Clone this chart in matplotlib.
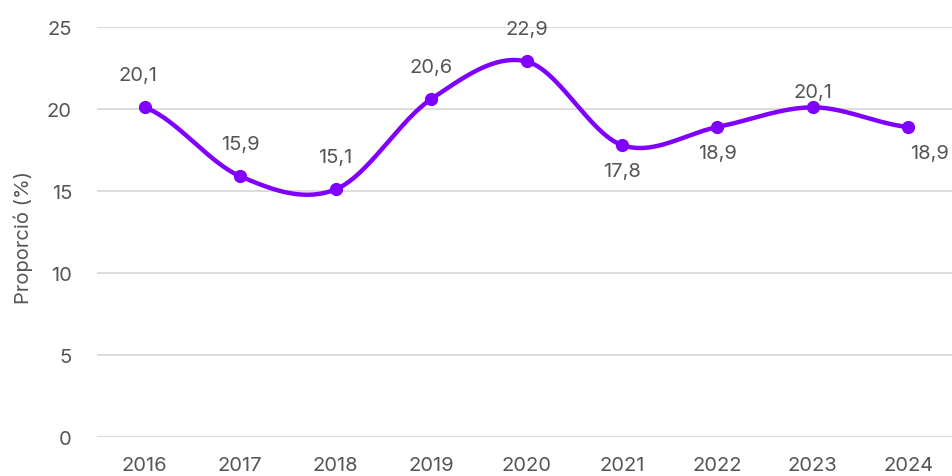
import numpy as np
import matplotlib
matplotlib.use("Agg")
import matplotlib.pyplot as plt

years = ["2016", "2017", "2018", "2019", "2020", "2021", "2022", "2023", "2024"]
values = [20.1, 15.9, 15.1, 20.6, 22.9, 17.8, 18.9, 20.1, 18.9]
label_below = [False, False, False, False, False, True, True, False, True]
y_ticks = [0, 5, 10, 15, 20, 25]
y_label = "Proporció (%)"

LINE = "#7f00ff"
TEXT = "#555555"
GRID = "#d9d9d9"

plt.rcParams['font.family'] = ['Inter', 'DejaVu Sans']

fig = plt.figure(figsize=(9.52, 4.77), dpi=100)
ax = fig.add_axes([97/952, 1-438/477, 859/952, (438-28)/477])

x = np.arange(len(values), dtype=float)
y = np.array(values, dtype=float)

# Catmull-Rom spline
n = len(x)
m = np.zeros(n)
for i in range(n):
    if i == 0:
        m[i] = (y[1] - y[0]) / 2
    elif i == n - 1:
        m[i] = (y[-1] - y[-2]) / 2
    else:
        m[i] = (y[i+1] - y[i-1]) / 2
xs, ys = [], []
for i in range(n - 1):
    t = np.linspace(0, 1, 60)
    h00 = 2*t**3 - 3*t**2 + 1
    h10 = t**3 - 2*t**2 + t
    h01 = -2*t**3 + 3*t**2
    h11 = t**3 - t**2
    xs.append(x[i] + t)
    ys.append(h00*y[i] + h10*m[i] + h01*y[i+1] + h11*m[i+1])
xs = np.concatenate(xs); ys = np.concatenate(ys)

ax.plot(xs, ys, color=LINE, lw=3.2, solid_capstyle='round', zorder=3, clip_on=False)
ax.plot(x, y, 'o', color=LINE, ms=8.5, zorder=4, clip_on=False)

for i, (xi, yi) in enumerate(zip(x, y)):
    lbl = f"{yi:.1f}".replace(".", ",")
    dx = 0
    if i == 0:
        dx = -5
    elif i == n - 1:
        dx = 15
    if label_below[i]:
        dy = -19
    elif i == 7:
        dy = 11
    else:
        dy = 23
    ax.annotate(lbl, (xi, yi), xytext=(dx, dy), textcoords='offset points',
                ha='center', va='center', fontsize=14.5, color=TEXT, zorder=5)

ax.set_xlim(-0.5, n - 0.5)
ax.set_ylim(0, 25)
ax.set_yticks(y_ticks)
ax.set_xticks(x)
ax.set_xticklabels(years)
ax.grid(axis='y', color=GRID, lw=1.3)
ax.set_axisbelow(True)
for s in ax.spines.values():
    s.set_visible(False)
ax.tick_params(axis='both', length=0, labelsize=14.5, labelcolor=TEXT)
ax.tick_params(axis='y', pad=18)
ax.tick_params(axis='x', pad=14)
ax.set_ylabel(y_label, fontsize=14.5, color=TEXT)
ax.yaxis.set_label_coords(-64/859, 0.49)

fig.savefig("out.png", dpi=100)
